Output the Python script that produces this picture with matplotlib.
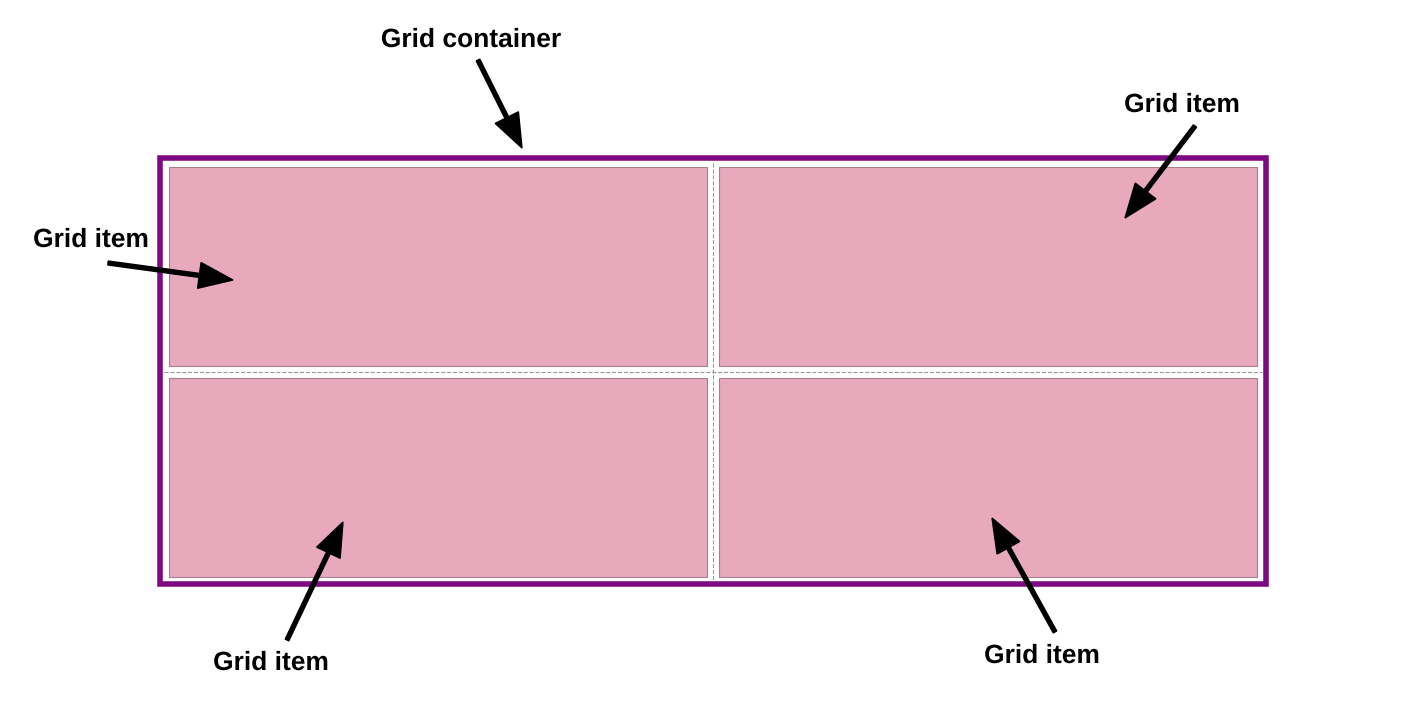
import matplotlib
matplotlib.use('Agg')
import matplotlib.pyplot as plt
from matplotlib.patches import Rectangle, FancyArrow
import matplotlib.patheffects as pe

# layout in pixel coordinates (x0, y0, x1, y1)
container = (160, 158, 1266, 584)
items = [(169, 167, 707, 366), (719, 167, 1257, 366),
         (169, 378, 707, 577), (719, 378, 1257, 577)]

# labels: text, text position, arrow tail, arrow tip
labels = ["Grid container", "Grid item", "Grid item", "Grid item", "Grid item"]
text_pos = [(471, 40), (1182, 105), (91, 240), (271, 663), (1042, 656)]
tails = [(478, 60), (1195, 126), (108, 263), (287, 640), (1055, 632)]
tips = [(522, 148), (1125, 218), (233, 280), (343, 522), (992, 518)]

fig = plt.figure(figsize=(14.26, 7.07), dpi=100)
ax = fig.add_axes([0, 0, 1, 1])
ax.set_xlim(0, 1426)
ax.set_ylim(707, 0)
ax.axis('off')

x0, y0, x1, y1 = container
ax.add_patch(Rectangle((x0, y0), x1 - x0, y1 - y0, fill=False,
                       edgecolor='#7d0a82', linewidth=4))

# dashed gutters
ax.plot([713, 713], [163, 580], color='#999999', lw=0.8, ls='--')
ax.plot([164, 1262], [372, 372], color='#999999', lw=0.8, ls='--')
for (a, b, c, d) in items:
    ax.add_patch(Rectangle((a, b), c - a, d - b, facecolor='#e8a9bd',
                           edgecolor='#a8808c', linewidth=0.8))

for lab, tp, t0, t1 in zip(labels, text_pos, tails, tips):
    ax.text(tp[0], tp[1], lab, ha='center', va='center', fontsize=19,
            fontweight='bold', family='Liberation Sans', color='black',
            path_effects=[pe.withStroke(linewidth=3, foreground='white')])
    dx, dy = t1[0] - t0[0], t1[1] - t0[1]
    ax.add_patch(FancyArrow(t0[0], t0[1], dx, dy, width=4, head_width=26,
                            head_length=34, length_includes_head=True,
                            color='black', shape='full'))

fig.savefig('out.png', dpi=100)
